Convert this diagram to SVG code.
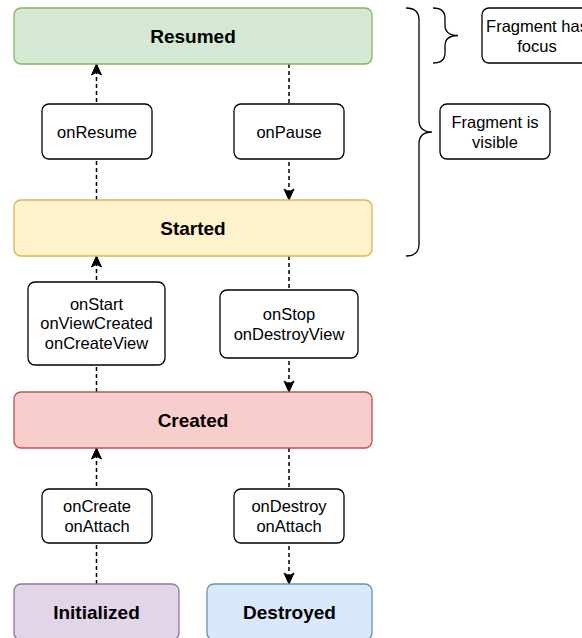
<svg xmlns="http://www.w3.org/2000/svg" width="582" height="638" viewBox="0 0 582 638">
<style>
text{font-family:"Liberation Sans",Arial,sans-serif;fill:#000;text-anchor:middle}
.st{font-size:19px;font-weight:bold}
.lb{font-size:16.5px}
.cb{fill:#fff;stroke:#000;stroke-width:1.3}
.ed{fill:none;stroke:#000;stroke-width:1.5;stroke-dasharray:4 3}
.br{fill:none;stroke:#000;stroke-width:1.3}
</style>
<defs>
<marker id="ah" markerUnits="userSpaceOnUse" markerWidth="13" markerHeight="13" viewBox="0 0 13 13" refX="12" refY="6.5" orient="auto">
<path d="M1,1.5 L12,6.5 L1,11.5 L3.8,6.5 z" fill="#000" stroke="#000" stroke-width="1"/>
</marker>
</defs>
<g id="connectors">
<line class="ed" x1="96.5" y1="200" x2="96.5" y2="64" marker-end="url(#ah)"/>
<line class="ed" x1="96.5" y1="392" x2="96.5" y2="256" marker-end="url(#ah)"/>
<line class="ed" x1="96.5" y1="584" x2="96.5" y2="448" marker-end="url(#ah)"/>
<line class="ed" x1="289" y1="64" x2="289" y2="200" marker-end="url(#ah)"/>
<line class="ed" x1="289" y1="256" x2="289" y2="392" marker-end="url(#ah)"/>
<line class="ed" x1="289" y1="448" x2="289" y2="584" marker-end="url(#ah)"/>
</g>
<g id="resumed"><rect x="14" y="8" width="358" height="56" rx="7" fill="#d5e8d4" stroke="#82b366" stroke-width="1.3"/><text class="st" x="193" y="43">Resumed</text></g>
<g id="started"><rect x="14" y="200" width="358" height="56" rx="7" fill="#fff2cc" stroke="#d6b656" stroke-width="1.3"/><text class="st" x="193" y="235">Started</text></g>
<g id="created"><rect x="14" y="392" width="358" height="56" rx="7" fill="#f8cecc" stroke="#b85450" stroke-width="1.3"/><text class="st" x="193" y="427">Created</text></g>
<g id="initialized"><rect x="14" y="584" width="165" height="56" rx="7" fill="#e1d5e7" stroke="#9673a6" stroke-width="1.3"/><text class="st" x="96.5" y="619">Initialized</text></g>
<g id="destroyed"><rect x="207" y="584" width="165" height="56" rx="7" fill="#dae8fc" stroke="#6c8ebf" stroke-width="1.3"/><text class="st" x="289.5" y="619">Destroyed</text></g>
<g id="onResume"><rect class="cb" x="42" y="104" width="110" height="55" rx="7"/><text class="lb" x="97" y="137.5">onResume</text></g>
<g id="onPause"><rect class="cb" x="234" y="104" width="110" height="55" rx="7"/><text class="lb" x="289" y="137.5">onPause</text></g>
<g id="onStart"><rect class="cb" x="28" y="282" width="137" height="83" rx="7"/><text class="lb" x="96.5" y="309.5">onStart</text><text class="lb" x="96.5" y="329">onViewCreated</text><text class="lb" x="96.5" y="348.5">onCreateView</text></g>
<g id="onStop"><rect class="cb" x="220" y="290" width="138" height="68" rx="7"/><text class="lb" x="289" y="320">onStop</text><text class="lb" x="289" y="339.5">onDestroyView</text></g>
<g id="onCreate"><rect class="cb" x="42" y="489" width="110" height="54" rx="7"/><text class="lb" x="97" y="512">onCreate</text><text class="lb" x="97" y="531.5">onAttach</text></g>
<g id="onDestroy"><rect class="cb" x="234" y="489" width="110" height="54" rx="7"/><text class="lb" x="289" y="512">onDestroy</text><text class="lb" x="289" y="531.5">onAttach</text></g>
<g id="braceVisible"><path class="br" d="M406,8 Q419,8 419,20 L419,120 Q419,132 432,132 Q419,132 419,144 L419,244 Q419,256 406,256"/></g>
<g id="braceFocus"><path class="br" d="M433,8 Q445,8 445,18 L445,25 Q445,35.5 458,35.5 Q445,35.5 445,46 L445,53 Q445,63 433,63"/></g>
<g id="focus"><rect class="cb" x="482" y="8" width="110" height="55" rx="7"/><text class="lb" x="537" y="32">Fragment has</text><text class="lb" x="537" y="51.5">focus</text></g>
<g id="visible"><rect class="cb" x="440" y="104" width="110" height="55" rx="7"/><text class="lb" x="495" y="128">Fragment is</text><text class="lb" x="495" y="147.5">visible</text></g>
</svg>
